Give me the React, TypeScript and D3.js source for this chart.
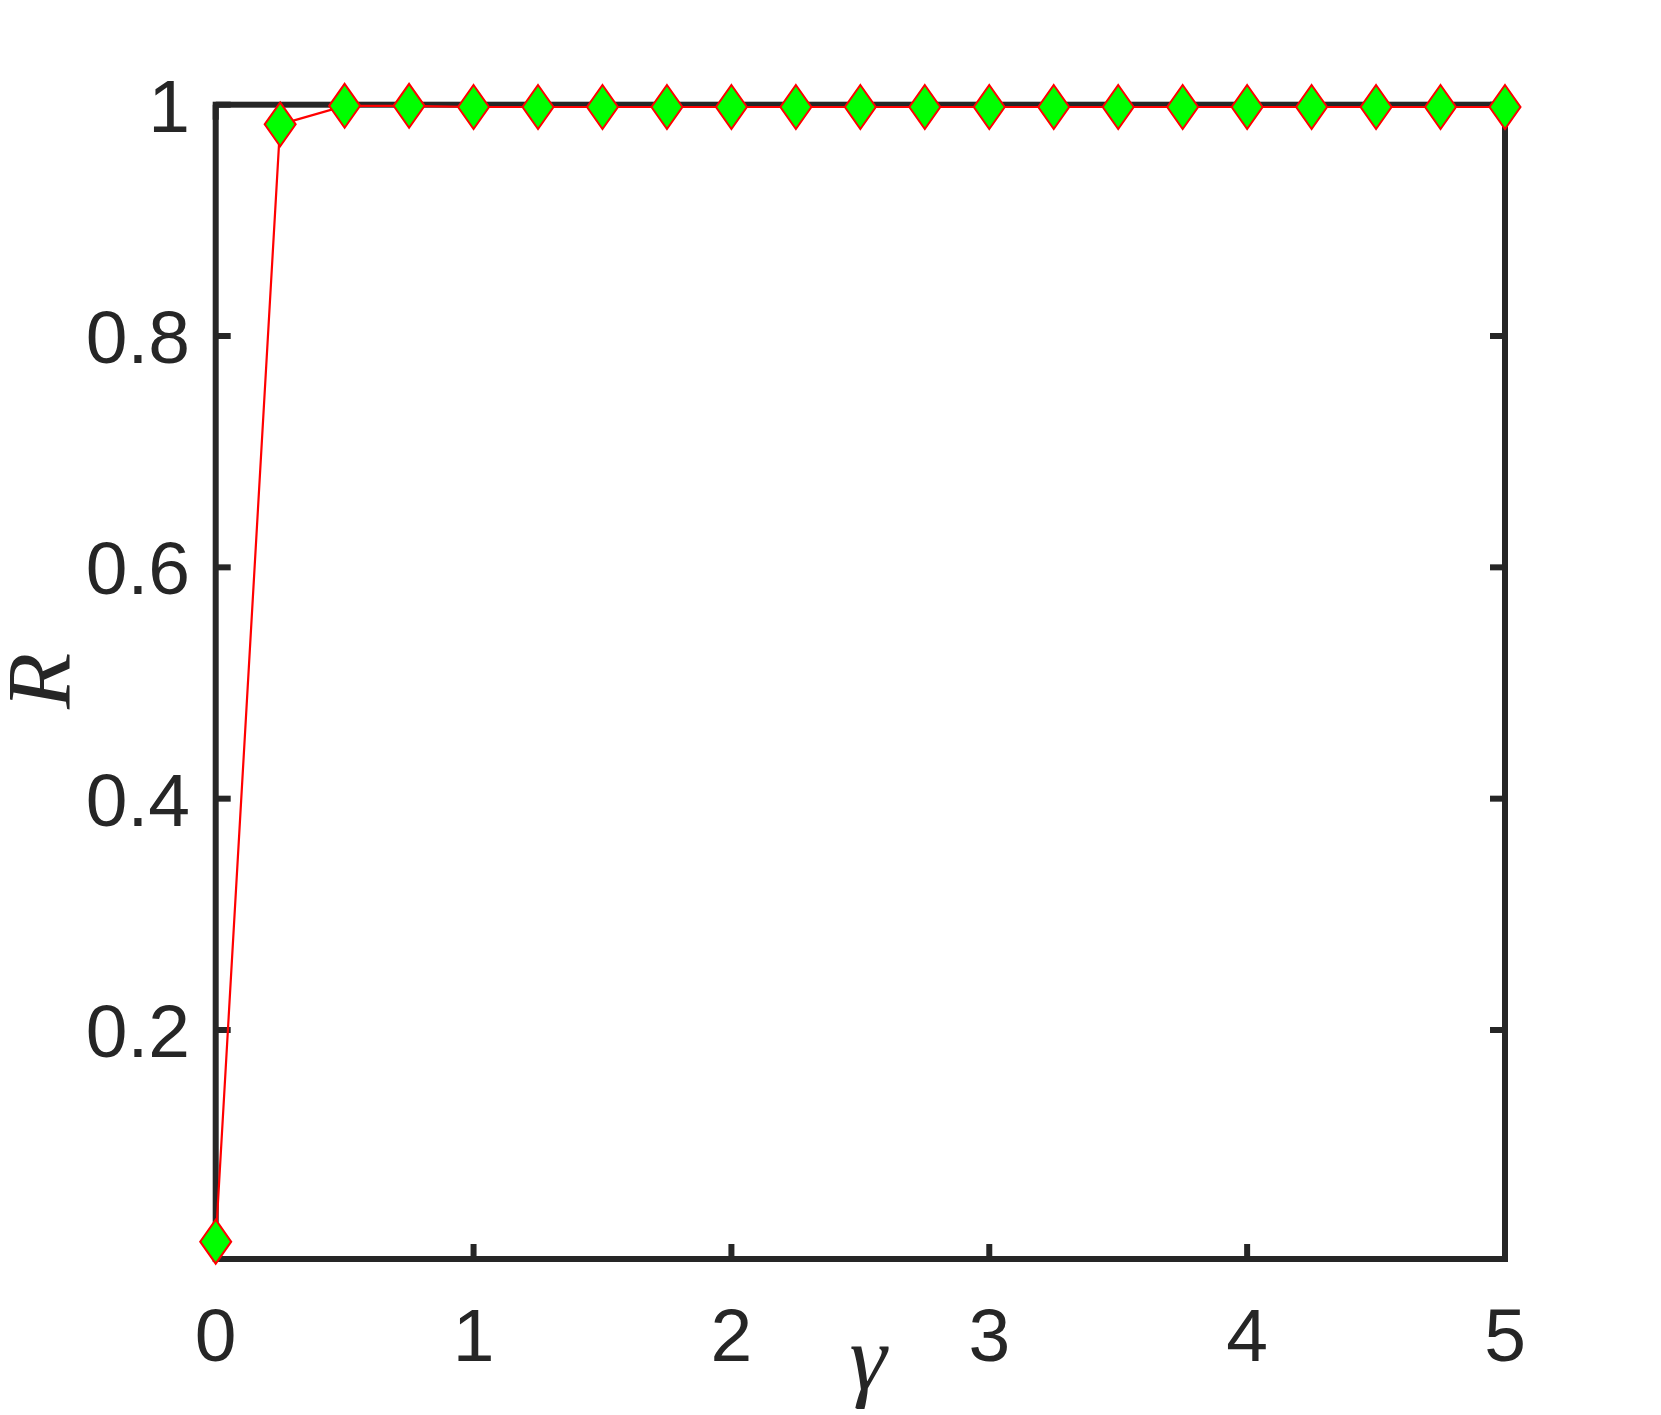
import React from "react";
import * as d3 from "d3";

const gammaValues = [0, 0.25, 0.5, 0.75, 1, 1.25, 1.5, 1.75, 2, 2.25, 2.5, 2.75, 3, 3.25, 3.5, 3.75, 4, 4.25, 4.5, 4.75, 5];
const rValues = [0.017, 0.983, 0.999, 0.999, 0.998, 0.998, 0.998, 0.998, 0.998, 0.998, 0.998, 0.998, 0.998, 0.998, 0.998, 0.998, 0.998, 0.998, 0.998, 0.998, 0.998];
const xTicks = [0, 1, 2, 3, 4, 5];
const yTicks = [0.2, 0.4, 0.6, 0.8, 1];

const W = 1661;
const H = 1415;
const left = 215.7;
const right = 1505;
const top = 104.7;
const bottom = 1259;

export default function App() {
  const x = d3.scaleLinear().domain([0, 5]).range([left, right]);
  const y = d3.scaleLinear().domain([0.002, 1]).range([bottom, top]);
  const pts = gammaValues.map((g, i) => [x(g), y(rValues[i])] as [number, number]);
  const line = d3.line()(pts) || "";
  const axisColor = "#262626";
  const tickLen = 15;
  const sw = 6;
  const mw = 15.5;
  const mh = 22;
  return (
    <svg width={W} height={H} style={{ position: "absolute", left: 0, top: 0, background: "#fff" }}>
      <rect x={0} y={0} width={W} height={H} fill="#fff" />
      {xTicks.map((t) => (
        <g key={"xt" + t}>
          <line x1={x(t)} x2={x(t)} y1={bottom} y2={bottom - tickLen} stroke={axisColor} strokeWidth={sw} />
          <line x1={x(t)} x2={x(t)} y1={top} y2={top + tickLen} stroke={axisColor} strokeWidth={sw} />
          <text x={x(t)} y={1361} textAnchor="middle" fontFamily="Liberation Sans, Arial, sans-serif" fontSize={75} fill={axisColor}>
            {t}
          </text>
        </g>
      ))}
      {yTicks.map((t) => (
        <g key={"yt" + t}>
          <line x1={left} x2={left + tickLen} y1={y(t)} y2={y(t)} stroke={axisColor} strokeWidth={sw} />
          <line x1={right} x2={right - tickLen} y1={y(t)} y2={y(t)} stroke={axisColor} strokeWidth={sw} />
          <text x={190} y={y(t) + 27} textAnchor="end" fontFamily="Liberation Sans, Arial, sans-serif" fontSize={75} fill={axisColor}>
            {t}
          </text>
        </g>
      ))}
      <rect x={left} y={top} width={right - left} height={bottom - top} fill="none" stroke={axisColor} strokeWidth={sw} />
      <path d={line} fill="none" stroke="#ff0000" strokeWidth={2.2} />
      {pts.map(([px, py], i) => (
        <path
          key={"m" + i}
          d={`M${px},${py - mh}L${px + mw},${py}L${px},${py + mh}L${px - mw},${py}Z`}
          fill="#00ff00"
          stroke="#ff0000"
          strokeWidth={2}
        />
      ))}
      <text
        transform={`translate(70,681) rotate(-90)`}
        textAnchor="middle"
        fontFamily="Liberation Serif, Times New Roman, serif"
        fontStyle="italic"
        fontSize={92}
        fill={axisColor}
      >
        R
      </text>
      <text x={868} y={1389} textAnchor="middle" fontFamily="Liberation Serif, Times New Roman, serif" fontStyle="italic" fontSize={94} fill={axisColor}>
        γ
      </text>
    </svg>
  );
}
